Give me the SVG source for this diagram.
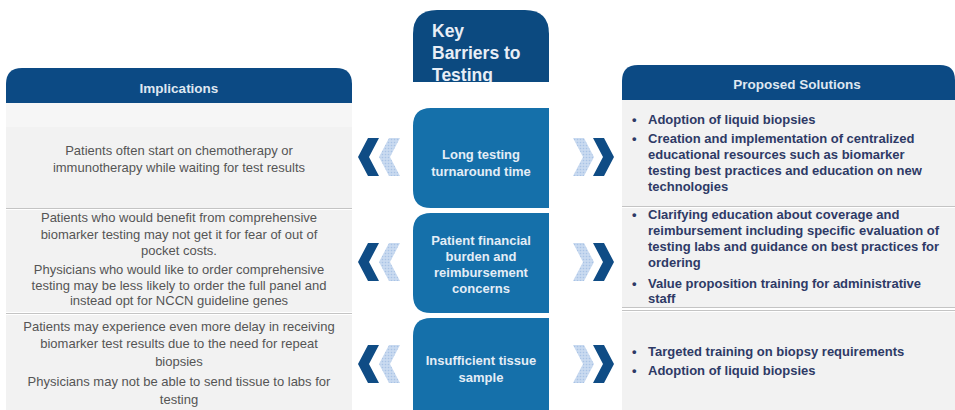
<svg xmlns="http://www.w3.org/2000/svg" width="955" height="410" viewBox="0 0 955 410">
<defs>
<style>
.hdr{fill:#0c4a84}
.row{fill:#f2f2f2}
.sep{stroke:#c4c4c4;stroke-width:1.2}
.htxt{font-family:"Liberation Sans",Arial,sans-serif;font-size:13.5px;font-weight:bold;fill:#dfe7f1;text-anchor:middle}
.ltxt{font-family:"Liberation Sans",Arial,sans-serif;font-size:13px;fill:#555;text-anchor:middle}
.rtxt{font-family:"Liberation Sans",Arial,sans-serif;font-size:13px;font-weight:bold;fill:#2e3a66}
.ctxt{font-family:"Liberation Sans",Arial,sans-serif;font-size:13px;font-weight:bold;fill:#e4edf6;text-anchor:middle}
.ktxt{font-family:"Liberation Sans",Arial,sans-serif;font-size:17.5px;font-weight:bold;fill:#e8eef6}
.cbox{fill:#1570aa}
.dch{fill:#0f4c85}
.lch{fill:url(#dots)}
</style>
<pattern id="dots" width="3" height="3" patternUnits="userSpaceOnUse">
<rect width="3" height="3" fill="#c9daf0"/>
<circle cx="1.5" cy="1.5" r="0.8" fill="#a9c3e6"/>
</pattern>
<clipPath id="kclip"><rect x="413" y="10" width="136" height="72"/></clipPath>
</defs>
<rect width="955" height="410" fill="#ffffff"/>

<g id="implications">
<path class="hdr" d="M6,103 V84 Q6,68 22,68 H336 Q352,68 352,84 V103 Z"/>
<text class="htxt" x="179" y="93">Implications</text>
<rect class="row" x="6" y="103" width="346" height="105"/>
<rect x="6" y="103" width="346" height="24" fill="#f6f6f6"/>
<line class="sep" x1="6" y1="208.5" x2="352" y2="208.5"/>
<rect class="row" x="6" y="210" width="346" height="102"/>
<line class="sep" x1="6" y1="313.5" x2="352" y2="313.5"/>
<rect class="row" x="6" y="315" width="346" height="95"/>
<text class="ltxt" x="179" y="155">Patients often start on chemotherapy or</text>
<text class="ltxt" x="179" y="172">immunotherapy while waiting for test results</text>
<text class="ltxt" x="179" y="222">Patients who would benefit from comprehensive</text>
<text class="ltxt" x="179" y="239">biomarker testing may not get it for fear of out of</text>
<text class="ltxt" x="179" y="255">pocket costs.</text>
<text class="ltxt" x="179" y="274">Physicians who would like to order comprehensive</text>
<text class="ltxt" x="179" y="290">testing may be less likely to order the full panel and</text>
<text class="ltxt" x="179" y="305">instead opt for NCCN guideline genes</text>
<text class="ltxt" x="179" y="331">Patients may experience even more delay in receiving</text>
<text class="ltxt" x="179" y="348">biomarker test results due to the need for repeat</text>
<text class="ltxt" x="179" y="366">biopsies</text>
<text class="ltxt" x="179" y="386">Physicians may not be able to send tissue to labs for</text>
<text class="ltxt" x="179" y="404">testing</text>
</g>

<g id="key-barriers">
<path fill="#0c4a80" d="M413,82 V34 Q413,10 437,10 H525 Q549,10 549,34 V82 Z"/>
<g clip-path="url(#kclip)">
<text class="ktxt" x="432" y="37">Key</text>
<text class="ktxt" x="432" y="59">Barriers to</text>
<text class="ktxt" x="432" y="81">Testing</text>
</g>
</g>

<g id="barrier-1">
<path class="cbox" d="M413,208 V126 Q413,108 431,108 H549 V208 H431 Q413,208 413,190 Z"/>
<text class="ctxt" x="481" y="159">Long testing</text>
<text class="ctxt" x="481" y="176">turnaround time</text>
</g>
<g id="barrier-2">
<path class="cbox" d="M413,313 V231 Q413,213 431,213 H549 V313 H431 Q413,313 413,295 Z"/>
<text class="ctxt" x="481" y="245">Patient financial</text>
<text class="ctxt" x="481" y="261">burden and</text>
<text class="ctxt" x="481" y="277">reimbursement</text>
<text class="ctxt" x="481" y="293">concerns</text>
</g>
<g id="barrier-3">
<path class="cbox" d="M413,410 V336 Q413,318 431,318 H549 V410 Z"/>
<text class="ctxt" x="481" y="365">Insufficient tissue</text>
<text class="ctxt" x="481" y="382">sample</text>
</g>

<g id="proposed-solutions">
<path class="hdr" d="M622,100 V81 Q622,65 638,65 H940 Q955,65 955,80 V100 Z"/>
<text class="htxt" x="797" y="89">Proposed Solutions</text>
<rect class="row" x="622" y="100" width="333" height="106"/>
<line class="sep" x1="622" y1="206.5" x2="955" y2="206.5"/>
<rect class="row" x="622" y="208" width="333" height="99"/>
<line class="sep" x1="622" y1="307.5" x2="955" y2="307.5"/>
<line class="sep" x1="622" y1="310.5" x2="955" y2="310.5"/>
<rect class="row" x="622" y="312" width="333" height="98"/>
<g class="rtxt">
<text x="632" y="124">•</text><text x="648" y="124">Adoption of liquid biopsies</text>
<text x="632" y="143">•</text><text x="648" y="143">Creation and implementation of centralized</text>
<text x="648" y="159">educational resources such as biomarker</text>
<text x="648" y="175">testing best practices and education on new</text>
<text x="648" y="191">technologies</text>
<text x="632" y="219">•</text><text x="648" y="219">Clarifying education about coverage and</text>
<text x="648" y="235">reimbursement including specific evaluation of</text>
<text x="648" y="251">testing labs and guidance on best practices for</text>
<text x="648" y="267">ordering</text>
<text x="632" y="288">•</text><text x="648" y="288">Value proposition training for administrative</text>
<text x="648" y="303">staff</text>
<text x="632" y="356">•</text><text x="648" y="356">Targeted training on biopsy requirements</text>
<text x="632" y="375">•</text><text x="648" y="375">Adoption of liquid biopsies</text>
</g>
</g>

<g id="connectors">
<g id="left-chevrons">
<path class="dch" d="M368,138 H379 L369,157 L379,176 H368 L358,157 Z"/>
<path class="lch" d="M389,138 H400 L390,157 L400,176 H389 L379,157 Z"/>
<path class="dch" d="M368,243 H379 L369,262 L379,281 H368 L358,262 Z"/>
<path class="lch" d="M389,243 H400 L390,262 L400,281 H389 L379,262 Z"/>
<path class="dch" d="M368,345 H379 L369,364 L379,383 H368 L358,364 Z"/>
<path class="lch" d="M389,345 H400 L390,364 L400,383 H389 L379,364 Z"/>
</g>
<g id="right-chevrons">
<path class="lch" d="M573,138 H584 L594,157 L584,176 H573 L583,157 Z"/>
<path class="dch" d="M593,138 H604 L614,157 L604,176 H593 L603,157 Z"/>
<path class="lch" d="M573,243 H584 L594,262 L584,281 H573 L583,262 Z"/>
<path class="dch" d="M593,243 H604 L614,262 L604,281 H593 L603,262 Z"/>
<path class="lch" d="M573,345 H584 L594,364 L584,383 H573 L583,364 Z"/>
<path class="dch" d="M593,345 H604 L614,364 L604,383 H593 L603,364 Z"/>
</g>
</g>
</svg>
